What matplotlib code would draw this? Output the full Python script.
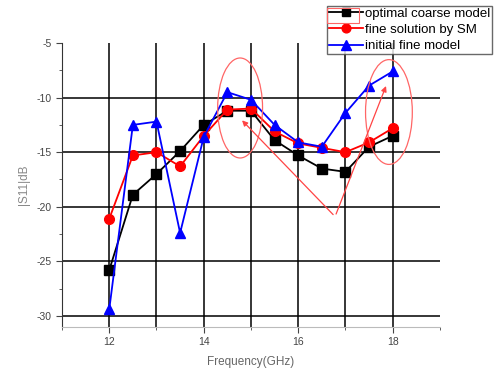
import numpy as np
import matplotlib.pyplot as plt
from matplotlib.patches import Ellipse, Rectangle

plt.rcParams['font.family'] = ['Liberation Sans', 'DejaVu Sans']
plt.rcParams['axes.unicode_minus'] = False

freq = [12, 12.5, 13, 13.5, 14, 14.5, 15, 15.5, 16, 16.5, 17, 17.5, 18]
coarse = [-25.8, -18.9, -17.0, -14.9, -12.5, -11.2, -11.2, -13.9, -15.3, -16.5, -16.8, -14.5, -13.5]
sm_fine = [-21.1, -15.3, -15.0, -16.3, -13.5, -11.1, -11.0, -13.1, -14.2, -14.6, -15.0, -14.1, -12.8]
init_fine = [-29.4, -12.5, -12.2, -22.4, -13.6, -9.5, -10.2, -12.5, -14.1, -14.5, -11.4, -8.9, -7.6]
labels = ['optimal coarse model', 'fine solution by SM', 'initial fine model']

# hand-drawn annotations (data coords)
ellipses = [(14.77, -10.95, 0.95, 9.16), (17.92, -11.32, 0.99, 9.6)]
arrow_vertex = (16.78, -20.9)
arrow_tips = [(14.77, -11.9), (17.88, -8.7)]

fig = plt.figure(figsize=(4.96, 3.71), dpi=100)
ax = fig.add_axes([0.125, 0.119, 0.762, 0.765])

ax.plot(freq, coarse, color='black', marker='s', markersize=6.5, lw=1.3, label=labels[0], zorder=3)
ax.plot(freq, sm_fine, color='red', marker='o', markersize=7, lw=1.3, label=labels[1], zorder=4)
ax.plot(freq, init_fine, color='blue', marker='^', markersize=7.5, lw=1.3, label=labels[2], zorder=5)

ax.set_xlim(11, 19)
ax.set_ylim(-31, -5)
ax.set_xticks([12, 14, 16, 18])
ax.set_xticks([11, 13, 15, 17, 19], minor=True)
ax.set_yticks([-30, -25, -20, -15, -10, -5])
ax.set_yticks(np.arange(-27.5, -5, 5), minor=True)

for x in range(12, 19):
    ax.axvline(x, color='black', lw=1.1, zorder=1)
for y in [-30, -25, -20, -15, -10]:
    ax.axhline(y, color='black', lw=1.1, zorder=1)

for s in ['top', 'right']:
    ax.spines[s].set_visible(False)
ax.spines['left'].set_color('#333333')
ax.spines['bottom'].set_color('#bbbbbb')
ax.tick_params(which='both', direction='out', labelsize=7.5, labelcolor='#444444', color='#444444')
ax.tick_params(which='major', length=4)
ax.tick_params(which='minor', length=2.5)
ax.set_xlabel('Frequency(GHz)', fontsize=8.5, color='#666666', labelpad=6)
ax.set_ylabel('|S11|dB', fontsize=8.5, color='#888888', labelpad=5)

for cx, cy, w, h in ellipses:
    ax.add_patch(Ellipse((cx, cy), w, h, fill=False, edgecolor='#ff6666', lw=0.9, zorder=6))
for tx, ty in arrow_tips:
    ax.annotate('', xy=(tx, ty), xytext=arrow_vertex,
                arrowprops=dict(arrowstyle='-|>', color='#ff4444', lw=0.9, mutation_scale=8), zorder=6)

leg = fig.legend(loc='upper right', bbox_to_anchor=(0.992, 0.985), fontsize=9.5, frameon=True,
                 fancybox=False, edgecolor='#444444', handlelength=2.6, handletextpad=0.1,
                 borderpad=0.15, labelspacing=0.3, borderaxespad=0, markerscale=0.9)
leg.get_frame().set_linewidth(1.0)
fig.patches.append(Rectangle((327 / 496, 1 - 23 / 371), 32 / 496, 15 / 371, transform=fig.transFigure,
                             fill=False, edgecolor='#ff6666', lw=0.8, zorder=10))

fig.savefig('out.png', dpi=100)
